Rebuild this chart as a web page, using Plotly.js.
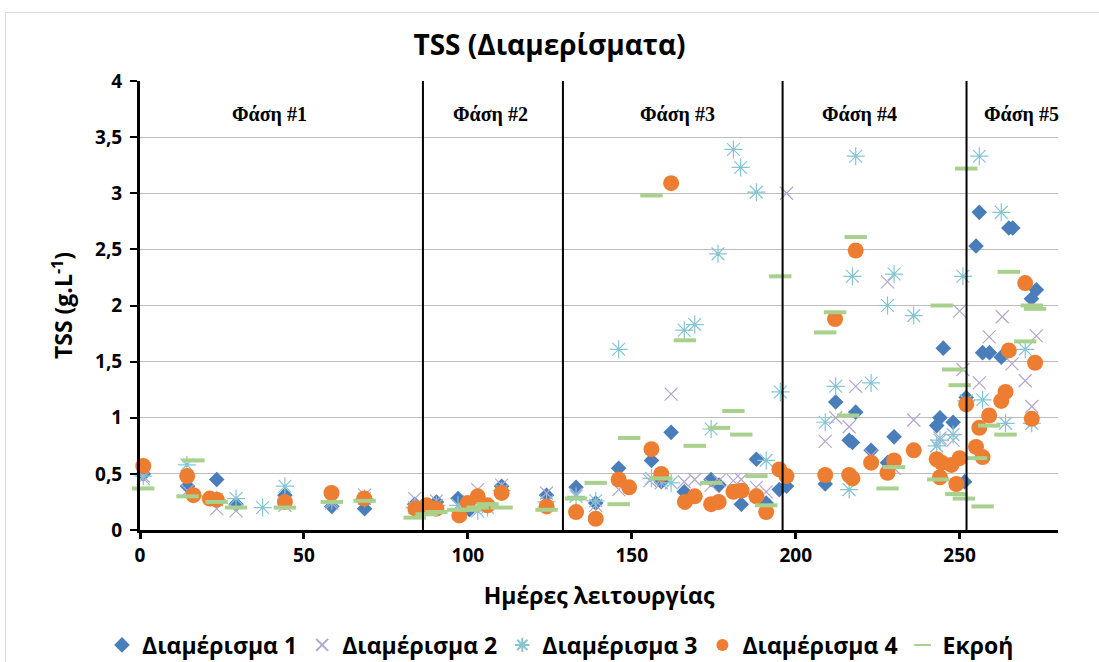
<!DOCTYPE html>
<html>
<head>
<meta charset="utf-8">
<script src="https://cdn.plot.ly/plotly-3.0.1.min.js"></script>
<style>
  html, body { margin: 0; padding: 0; background: #ffffff; overflow: hidden; }
  #chart { position: absolute; left: 0; top: 0; width: 1099px; height: 662px; }
  #frame { position: absolute; left: 5px; top: 12px; width: 1200px; height: 800px;
           border: 1px solid #d9d9d9; pointer-events: none; }
</style>
</head>
<body>
<div id="chart"></div>
<div id="frame"></div>
<script>
// Operating days and TSS (g/L) per compartment and for the effluent
const d1Days = [1, 14.5, 23.4, 29.3, 44.2, 58.5, 68.5, 83.8, 90.4,
  97, 100.5, 110.3, 124,
  133, 139, 146, 156, 159, 162, 166, 174.2, 176.6, 183.4, 188, 191, 195, 197.2,
  209, 212.2, 216.3, 217.3, 218.3, 223, 228, 230, 243, 244, 245, 248, 251.5,
  252, 255, 256, 257, 259.1, 262.7, 265, 266.2, 271.9, 273.4];
const d1Vals = [0.50, 0.39, 0.45, 0.23, 0.31, 0.21, 0.19, 0.23, 0.25,
  0.28, 0.18, 0.39, 0.31,
  0.38, 0.24, 0.55, 0.62, 0.43, 0.87, 0.34, 0.45, 0.40, 0.23, 0.63, 0.24, 0.36, 0.39,
  0.41, 1.14, 0.80, 0.78, 1.05, 0.71, 0.60, 0.83, 0.93, 1.00, 1.62, 0.96, 0.43,
  1.18, 2.53, 2.83, 1.58, 1.58, 1.54, 2.69, 2.69, 2.06, 2.14];

const d2Days = [1, 14.5, 23.4, 29.3, 44.2, 58.5, 68.5, 83.8, 90.4,
  97, 100.5, 103, 110.3, 124,
  133, 139, 146, 155.5, 159, 162, 166, 169.2, 174.2, 176.6, 181, 183.4, 188, 191, 197.2,
  209, 212.2, 216.3, 218.3, 223, 228, 230, 236, 243, 244, 248, 250, 251,
  256, 259, 263, 266, 270, 272, 273.4];
const d2Vals = [0.46, 0.35, 0.19, 0.17, 0.22, 0.24, 0.31, 0.28, 0.26,
  0.22, 0.25, 0.36, 0.40, 0.33,
  0.32, 0.22, 0.36, 0.44, 0.42, 1.21, 0.43, 0.45, 0.40, 0.44, 0.44, 0.45, 0.38, 0.34, 3.00,
  0.79, 1.00, 0.92, 1.28, 0.66, 2.21, 0.55, 0.98, 0.75, 0.82, 0.80, 1.95, 1.43,
  1.31, 1.72, 1.90, 1.48, 1.33, 1.10, 1.73];

const d3Days = [1, 14.3, 23.4, 29.3, 37.4, 44.2, 58.5, 68.5, 83.8, 90.4,
  97, 103, 106, 110.3, 124,
  133, 139, 146, 156, 159, 162, 166, 169.2, 174.2, 176.3, 181, 183.2, 188, 191, 195.3,
  209, 212.2, 216.3, 217.3, 218.3, 223, 228, 230, 236, 243, 244, 248, 251,
  252, 256, 257, 262.7, 264, 270, 272];
const d3Vals = [0.48, 0.58, 0.27, 0.28, 0.20, 0.39, 0.26, 0.28, 0.20, 0.22,
  0.22, 0.17, 0.20, 0.35, 0.25,
  0.30, 0.26, 1.61, 0.46, 0.45, 0.42, 1.78, 1.83, 0.90, 2.46, 3.39, 3.23, 3.01, 0.62, 1.23,
  0.96, 1.28, 0.36, 2.26, 3.33, 1.31, 2.00, 2.28, 1.91, 0.75, 0.80, 0.85, 2.26,
  1.15, 3.33, 1.16, 2.83, 0.95, 1.61, 0.95];

const d4Days = [1, 14.4, 16.3, 21.3, 23.4, 44.2, 58.4, 68.4, 84, 87.4, 90.4,
  97.4, 100, 103, 106, 110.3, 124,
  133, 139, 146, 149.2, 156, 159, 162, 166.2, 169.2, 174.2, 176.5, 181, 183.5, 188, 191, 195, 197.2,
  209, 212, 216.3, 217.3, 218.3, 223, 228, 230, 236, 243, 244, 244.5, 247.5, 249, 250,
  252, 255, 256, 257, 259, 262.7, 264, 265, 270, 272, 273];
const d4Vals = [0.57, 0.48, 0.31, 0.28, 0.27, 0.25, 0.33, 0.28, 0.19, 0.22, 0.19,
  0.13, 0.24, 0.30, 0.22, 0.33, 0.21,
  0.16, 0.10, 0.45, 0.38, 0.72, 0.50, 3.09, 0.25, 0.30, 0.23, 0.25, 0.34, 0.35, 0.30, 0.16, 0.54, 0.48,
  0.49, 1.88, 0.49, 0.46, 2.49, 0.60, 0.51, 0.62, 0.71, 0.63, 0.47, 0.60, 0.58, 0.41, 0.64,
  1.12, 0.74, 0.91, 0.65, 1.02, 1.15, 1.23, 1.60, 2.20, 0.99, 1.49];

const effDays = [1, 14.5, 16.3, 23.4, 29.3, 44.2, 58.5, 68.5, 83.8, 87.4, 90.4,
  97, 100.5, 103, 106, 110.3, 124,
  133, 139, 146, 149.2, 156, 159, 166.2, 169.2, 174.2, 176.6, 181, 183.4, 188, 191, 195.3,
  209, 212, 216, 218.3, 228, 230, 243.5, 244.5, 248, 249, 250, 251.3,
  252, 255, 257, 259, 264, 265, 270, 272, 273];
const effVals = [0.37, 0.30, 0.62, 0.25, 0.20, 0.20, 0.25, 0.26, 0.11, 0.14, 0.16,
  0.18, 0.18, 0.20, 0.23, 0.20, 0.18,
  0.28, 0.42, 0.23, 0.82, 2.98, 0.46, 1.69, 0.75, 0.42, 0.91, 1.06, 0.85, 0.48, 0.22, 2.26,
  1.76, 1.94, 1.02, 2.61, 0.37, 0.56, 0.45, 2.00, 1.43, 0.32, 1.29, 0.28,
  3.22, 0.64, 0.21, 0.93, 0.85, 2.30, 1.68, 2.00, 1.97];

const seriesNames = ['Διαμέρισμα 1', 'Διαμέρισμα 2', 'Διαμέρισμα 3', 'Διαμέρισμα 4', 'Εκροή'];

// Phase boundaries (days) and labels
const phaseBounds = [86.3, 129, 196, 252.1];
const phaseLabels = ['Φάση #1', 'Φάση #2', 'Φάση #3', 'Φάση #4', 'Φάση #5'];
const phaseLabelDays = [39.5, 107, 164, 219.5, 269];
const phaseLabelLevel = 3.7;

const baseFont = 'Open Sans, Noto Sans, sans-serif';

const traces = [
  { x: d1Days, y: d1Vals, name: seriesNames[0], type: 'scatter', mode: 'markers', cliponaxis: false,
    marker: { symbol: 'diamond', size: 12, color: '#4a7ebb', line: { width: 0 } } },
  { x: d2Days, y: d2Vals, name: seriesNames[1], type: 'scatter', mode: 'markers', cliponaxis: false,
    marker: { symbol: 'x-thin-open', size: 13, color: '#b4a5cf', line: { width: 1.2, color: '#b4a5cf' } } },
  { x: d3Days, y: d3Vals, name: seriesNames[2], type: 'scatter', mode: 'markers', cliponaxis: false,
    marker: { symbol: 'asterisk-open', size: 15, color: '#86c4d3', line: { width: 1.2, color: '#86c4d3' } } },
  { x: d4Days, y: d4Vals, name: seriesNames[3], type: 'scatter', mode: 'markers', cliponaxis: false,
    marker: { symbol: 'circle', size: 16, color: '#ed7d31', line: { width: 0 } } },
  { x: effDays, y: effVals, name: seriesNames[4], type: 'scatter', mode: 'markers', cliponaxis: false,
    marker: { symbol: 'line-ew-open', size: 16, color: '#a9d18e', line: { width: 4, color: '#a9d18e' } } }
];

const shapes = phaseBounds.map(d => ({
  type: 'line', xref: 'x', yref: 'y', x0: d, x1: d, y0: 0, y1: 4,
  line: { color: '#000000', width: 2 }, layer: 'above'
}));

const annotations = phaseLabels.map((t, i) => ({
  x: phaseLabelDays[i], y: phaseLabelLevel, xref: 'x', yref: 'y', text: t, showarrow: false,
  font: { family: 'Liberation Serif, DejaVu Serif, serif', size: 20, color: '#000000', weight: 'bold' }
}));

const layout = {
  width: 1099, height: 662,
  paper_bgcolor: 'rgba(0,0,0,0)', plot_bgcolor: '#ffffff',
  separators: ',.',
  margin: { l: 140, r: 41, t: 81, b: 132, autoexpand: false },
  title: {
    text: 'TSS (Διαμερίσματα)', x: 0.5, xanchor: 'center', xref: 'container',
    y: 0.932, yanchor: 'middle',
    font: { family: baseFont, size: 28, color: '#000000', weight: 'bold' }
  },
  xaxis: {
    range: [0, 280], dtick: 50, tick0: 0, automargin: false,
    showgrid: false, zeroline: false,
    showline: true, linecolor: '#000000', linewidth: 3,
    ticks: 'outside', ticklen: 6, tickwidth: 3, tickcolor: '#000000',
    tickfont: { family: baseFont, size: 19, color: '#000000', weight: 'bold' },
    title: { text: 'Ημέρες λειτουργίας', standoff: 22,
             font: { family: baseFont, size: 23, color: '#000000', weight: 'bold' } }
  },
  yaxis: {
    range: [0, 4], dtick: 0.5, tick0: 0, automargin: false,
    showgrid: true, gridcolor: '#bdbdbd', gridwidth: 1, zeroline: false,
    showline: true, linecolor: '#000000', linewidth: 3,
    ticks: 'outside', ticklen: 7, tickwidth: 2, tickcolor: '#000000',
    ticklabelstandoff: 4,
    tickfont: { family: baseFont, size: 19, color: '#000000', weight: 'bold' },
    title: { text: 'TSS (g.L<sup>-1</sup>)', standoff: 16,
             font: { family: baseFont, size: 23, color: '#000000', weight: 'bold' } }
  },
  showlegend: true,
  legend: {
    orientation: 'h', x: 0.51, xanchor: 'center', xref: 'container', y: -0.256, yanchor: 'middle',
    font: { family: baseFont, size: 23, color: '#000000', weight: 'bold' },
    itemsizing: 'constant', bgcolor: 'rgba(0,0,0,0)'
  },
  shapes: shapes,
  annotations: annotations
};

Plotly.newPlot('chart', traces, layout, { displayModeBar: false, staticPlot: true });
</script>
</body>
</html>
